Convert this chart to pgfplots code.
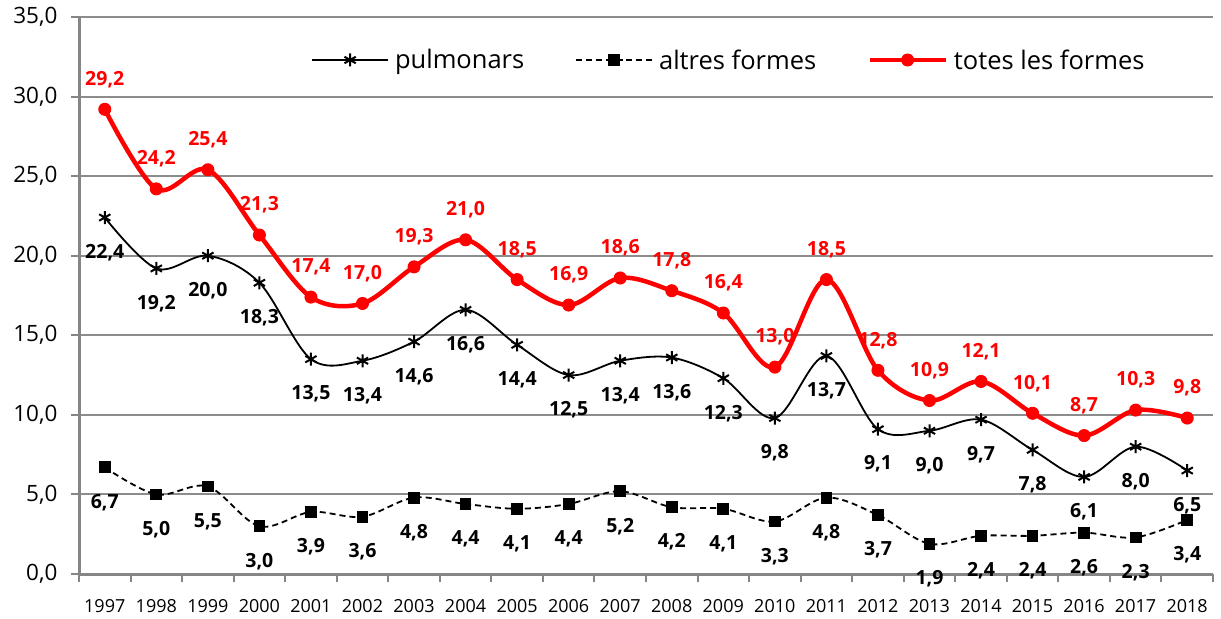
\documentclass[border=0pt]{standalone}
\usepackage{pgfplots}
\usepackage{pgfplotstable}
\pgfplotsset{compat=1.18}
\usepackage{fontspec}
\setmainfont{Open Sans}
\definecolor{axgray}{RGB}{134,134,134}
\definecolor{gridgray}{RGB}{140,140,140}
\definecolor{myred}{RGB}{255,0,0}

\pgfplotstableread{
year pulm altres totes
1997 22.4 6.7 29.2
1998 19.2 5.0 24.2
1999 20.0 5.5 25.4
2000 18.3 3.0 21.3
2001 13.5 3.9 17.4
2002 13.4 3.6 17.0
2003 14.6 4.8 19.3
2004 16.6 4.4 21.0
2005 14.4 4.1 18.5
2006 12.5 4.4 16.9
2007 13.4 5.2 18.6
2008 13.6 4.2 17.8
2009 12.3 4.1 16.4
2010 9.8 3.3 13.0
2011 13.7 4.8 18.5
2012 9.1 3.7 12.8
2013 9.0 1.9 10.9
2014 9.7 2.4 12.1
2015 7.8 2.4 10.1
2016 6.1 2.6 8.7
2017 8.0 2.3 10.3
2018 6.5 3.4 9.8
}\datatable

\begin{document}
\begin{tikzpicture}
\begin{axis}[
  scale only axis, width=1134pt, height=557pt,
  xmin=1996.5, xmax=2018.5, ymin=0, ymax=35,
  clip=false,
  axis x line*=bottom, axis y line*=left,
  axis line style={axgray, line width=3pt, -},
  /pgf/number format/assume math mode=true,
  ytick={0,5,...,35},
  ymajorgrids, major grid style={gridgray, line width=2pt},
  xtick={1997,...,2018},
  xticklabels={1997,1998,1999,2000,2001,2002,2003,2004,2005,2006,2007,2008,2009,2010,2011,2012,2013,2014,2015,2016,2017,2018},
  minor xtick={1996.5,1997.5,...,2018.5},
  tick align=outside,
  major tick length=8pt, minor tick length=8pt,
  major x tick style={draw=none},
  minor x tick style={axgray, line width=2pt},
  major y tick style={axgray, line width=2pt},
  xticklabel style={font=\fontsize{18}{20}\selectfont, text=black, yshift=-14pt},
  yticklabel style={font=\fontsize{22.5}{25}\selectfont, text=black, xshift=-10pt,
    /pgf/number format/.cd, fixed, fixed zerofill, precision=1, use comma},
  legend columns=3,
  legend style={draw=none, fill=none, at={(rel axis cs:0.2046,0.9228)}, anchor=west,
    font=\fontsize{25.5}{28}\selectfont, inner sep=0pt,
    /tikz/every odd column/.append style={column sep=4pt},
    /tikz/every even column/.append style={column sep=49pt}},
  legend image code/.code={\draw[mark repeat=2,mark phase=2,#1] plot coordinates {(0pt,0pt) (38pt,0pt) (76pt,0pt)};},
  nodes near coords={\pgfmathprintnumber[fixed,fixed zerofill,precision=1,use comma]{\pgfplotspointmeta}},
]
\addplot[black, line width=1.8pt, smooth, tension=0.55, mark=asterisk, mark size=6.5pt,
  mark options={line width=2pt, solid}, point meta=y,
  nodes near coords style={font=\fontsize{19.5}{21}\selectfont\bfseries, text=black, anchor=center, yshift=-35pt}]
  table[x=year, y=pulm] {\datatable};
\addlegendentry{pulmonars}
\addplot[black, line width=1.8pt, dash pattern=on 6pt off 4pt, smooth, tension=0.55, mark=square*, mark size=5pt,
  mark options={solid}, point meta=y,
  nodes near coords style={font=\fontsize{19.5}{21}\selectfont\bfseries, text=black, anchor=center, yshift=-35pt}]
  table[x=year, y=altres] {\datatable};
\addlegendentry{altres formes}
\addplot[myred, line width=4.5pt, smooth, tension=0.55, mark=*, mark size=6pt,
  mark options={solid, fill=myred, line width=1pt}, point meta=y,
  nodes near coords style={font=\fontsize{19.5}{21}\selectfont\bfseries, text=myred, anchor=center, yshift=30pt}]
  table[x=year, y=totes] {\datatable};
\addlegendentry{totes les formes}
\path (rel axis cs:0,0) ++(-79pt,-44pt) coordinate (bbA);
\path (rel axis cs:1,1) ++(8pt,17pt) coordinate (bbB);
\end{axis}
\end{tikzpicture}
\end{document}
